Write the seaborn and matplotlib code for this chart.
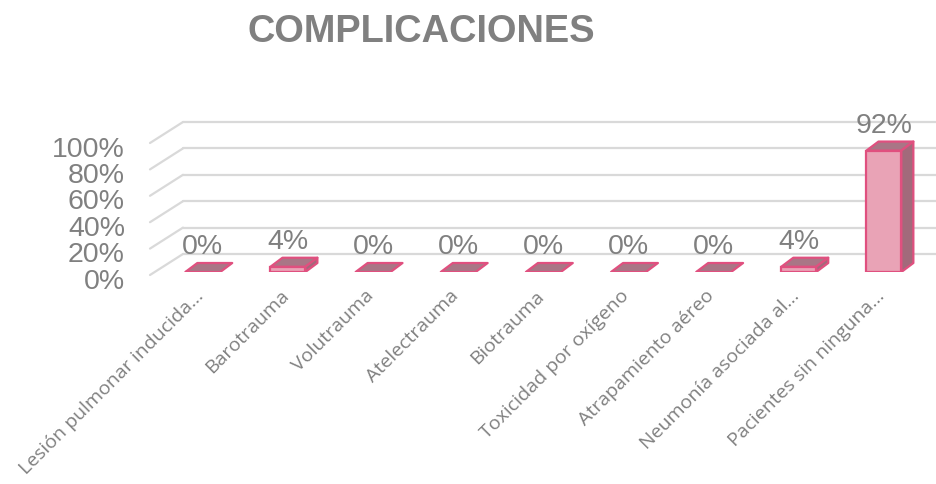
import matplotlib
matplotlib.use("Agg")
import matplotlib.pyplot as plt
from matplotlib.patches import Polygon
from matplotlib.transforms import ScaledTranslation, offset_copy
import seaborn as sns
import pandas as pd

# Complication categories and share of patients
categorias = [
    "Lesión pulmonar inducida...",
    "Barotrauma",
    "Volutrauma",
    "Atelectrauma",
    "Biotrauma",
    "Toxicidad por oxígeno",
    "Atrapamiento aéreo",
    "Neumonía asociada al...",
    "Pacientes sin ninguna...",
]
porcentajes = [0.00, 0.04, 0.00, 0.00, 0.00, 0.00, 0.00, 0.04, 0.92]
ticks_y = [0.0, 0.2, 0.4, 0.6, 0.8, 1.0]
etiquetas_y = ["0%", "20%", "40%", "60%", "80%", "100%"]
titulo = "COMPLICACIONES"

GRIS = "#808080"
FRENTE = "#e9a3b6"
TAPA = "#a97686"
LADO = "#a26a7b"
BORDE = "#e0507f"
REJILLA = "#d9d9d9"

sns.set_theme(style="white")
plt.rcParams["font.family"] = ["Liberation Sans", "DejaVu Sans"]

W, H, DPI = 937, 485, 100
fig = plt.figure(figsize=(W / DPI, H / DPI), dpi=DPI)

# axes geometry in pixels (bar plane)
ax_left_px, ax_right_px = 150, 935
y0_px, px_per_unit = 273, 132
ax = fig.add_axes([ax_left_px / W, (H - y0_px) / H,
                   (ax_right_px - ax_left_px) / W, px_per_unit / H])
xmin, xmax = -0.62, 8.6
ax.set_xlim(xmin, xmax)
ax.set_ylim(0, 1.0)

df = pd.DataFrame({"categoria": categorias, "valor": porcentajes})
bar_w = 0.41
sns.barplot(data=df, x="categoria", y="valor", ax=ax, color=FRENTE,
            width=bar_w, saturation=1, edgecolor=BORDE, linewidth=1.6,
            zorder=3)
ax.set_xlim(xmin, xmax)
ax.set_ylim(0, 1.0)

# pixel -> data conversion for the 3D depth of each bar
ux = (xmax - xmin) / (ax_right_px - ax_left_px)
uy = 1.0 / px_per_unit
ddx, ddy = 12 * ux, 9 * uy

for p in list(ax.patches):
    x0 = p.get_x()
    x1 = x0 + p.get_width()
    h = p.get_height()
    top = Polygon([(x0, h), (x1, h), (x1 + ddx, h + ddy), (x0 + ddx, h + ddy)],
                  closed=True, facecolor=TAPA, edgecolor=BORDE, lw=1.6,
                  zorder=4, joinstyle="round")
    ax.add_patch(top)
    if h > 0:
        side = Polygon([(x1, 0), (x1 + ddx, ddy), (x1 + ddx, h + ddy), (x1, h)],
                       closed=True, facecolor=LADO, edgecolor=BORDE, lw=1.6,
                       zorder=4, joinstyle="round")
        ax.add_patch(side)

# value labels above each bar
for i, v in enumerate(porcentajes):
    ax.annotate(f"{v:.0%}", xy=(i, v), xytext=(0, 19 * 0.72),
                textcoords="offset points", ha="center", va="baseline",
                fontsize=20.5, color=GRIS, zorder=6)

# floor/back-wall gridlines: front edge, slanted side, back wall
front = offset_copy(ax.transData, fig=fig, x=0, y=-3, units="dots")
back = offset_copy(ax.transData, fig=fig, x=33, y=18, units="dots")
for v in ticks_y:
    p_front = front.transform((xmin, v))
    p_back = back.transform((xmin, v))
    p_end = back.transform((xmax + 1, v))
    fig.add_artist(plt.Line2D([p_front[0] / W, p_back[0] / W],
                              [p_front[1] / H, p_back[1] / H],
                              color=REJILLA, lw=1.6, zorder=0))
    fig.add_artist(plt.Line2D([p_back[0] / W, p_end[0] / W],
                              [p_back[1] / H, p_end[1] / H],
                              color=REJILLA, lw=1.6, zorder=0))

# y tick labels
ax.set_yticks(ticks_y)
ax.set_yticklabels(etiquetas_y, fontsize=20.5, color=GRIS)
ax.tick_params(axis="y", length=0, pad=18)
for lab in ax.get_yticklabels():
    lab.set_transform(lab.get_transform()
                      + ScaledTranslation(0, -4 / 72, fig.dpi_scale_trans))

# category labels
ax.set_xticks(range(len(categorias)))
ax.set_xticklabels(categorias, rotation=45, ha="right",
                   rotation_mode="anchor", fontsize=14,
                   family=["Open Sans", "DejaVu Sans"], color=GRIS)
ax.tick_params(axis="x", length=0, pad=10)
for lab in ax.get_xticklabels():
    lab.set_transform(lab.get_transform()
                      + ScaledTranslation(-6 / 72, 0, fig.dpi_scale_trans))

ax.set_xlabel("")
ax.set_ylabel("")
ax.grid(False)
for s in ax.spines.values():
    s.set_visible(False)
ax.patch.set_alpha(0)

fig.text(421.5 / W, 1 - 42 / H, titulo, ha="center", va="baseline",
         fontsize=27.4, fontweight="bold", color=GRIS)

fig.savefig("out.png", dpi=DPI, facecolor="white")
